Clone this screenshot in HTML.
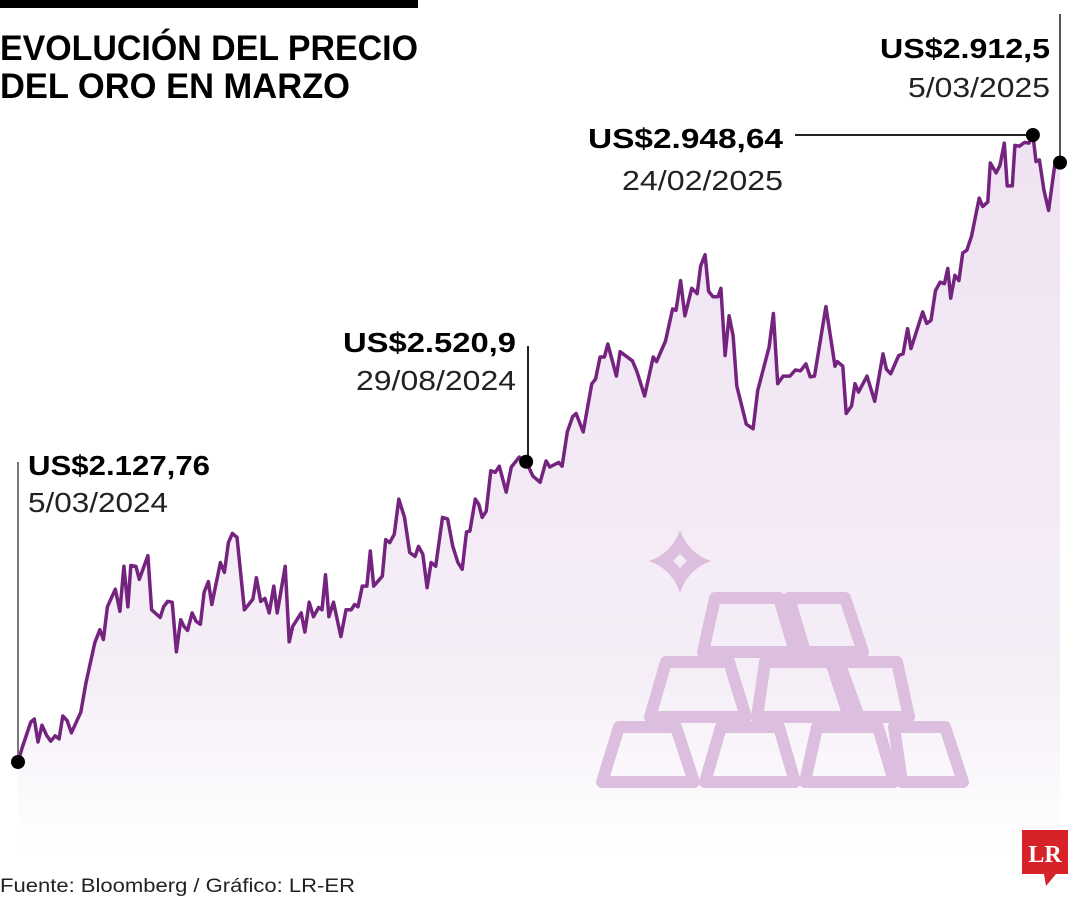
<!DOCTYPE html>
<html><head><meta charset="utf-8">
<style>
html,body{margin:0;padding:0;background:#fff;}
svg{display:block;font-family:"Liberation Sans",sans-serif;}
</style></head>
<body>
<svg id="chart" width="1080" height="900" viewBox="0 0 1080 900">
<defs>
<linearGradient id="fillg" x1="0" y1="0" x2="0" y2="1">
<stop offset="0" stop-color="#efe2f2"/>
<stop offset="0.75" stop-color="#f5eef7"/>
<stop offset="1" stop-color="#ffffff"/>
</linearGradient>
</defs>
<rect x="0" y="0" width="418" height="8" fill="#000"/>
<text x="0" y="60" font-size="35" font-weight="bold" textLength="418" lengthAdjust="spacingAndGlyphs">EVOLUCIÓN DEL PRECIO</text>
<text x="0" y="98" font-size="35" font-weight="bold" textLength="350" lengthAdjust="spacingAndGlyphs">DEL ORO EN MARZO</text>
<g id="area-layer"></g>
<g id="icon" fill="none" stroke="#dcbedf" stroke-width="12" stroke-linejoin="round">
<polygon points="602,782 694,782 676,727 619,727"/>
<polygon points="705,782 795,782 779,727 721,727"/>
<polygon points="805,782 894,782 878,727 817,727"/>
<polygon points="902,782 963,782 945,727 894,727"/>
<polygon points="650,717 746,717 729,662 666,662"/>
<polygon points="757,717 849,717 831,662 765,662"/>
<polygon points="859,717 909,717 897,662 839,662"/>
<polygon points="703,652 795,652 779,598 715,598"/>
<polygon points="805,652 863,652 845,598 789,598"/>
</g>
<g>
<path d="M680,530 Q688,553 711,561 Q688,569 680,593 Q672,569 649,561 Q672,553 680,530 Z" fill="#dcbedf"/>
<polygon points="680,554 687,561 680,568 673,561" fill="#f4ecf6"/>
</g>
<g id="line-layer"></g>
<g stroke-width="2" fill="none">
<line x1="18" y1="462" x2="18" y2="762" stroke="#777"/>
<line x1="528" y1="346" x2="528" y2="466" stroke="#222"/>
<line x1="795" y1="135" x2="1033" y2="135" stroke="#222"/>
<line x1="1060" y1="14" x2="1060" y2="163" stroke="#555"/>
</g>
<g id="dots"></g>
<text x="28" y="475" font-size="28" font-weight="bold" textLength="182" lengthAdjust="spacingAndGlyphs">US$2.127,76</text>
<text x="28" y="512" font-size="28" textLength="140" lengthAdjust="spacingAndGlyphs" fill="#222">5/03/2024</text>
<text x="343" y="352" font-size="28" font-weight="bold" textLength="173" lengthAdjust="spacingAndGlyphs">US$2.520,9</text>
<text x="356" y="390" font-size="28" textLength="160" lengthAdjust="spacingAndGlyphs" fill="#222">29/08/2024</text>
<text x="588" y="148" font-size="28" font-weight="bold" textLength="195" lengthAdjust="spacingAndGlyphs">US$2.948,64</text>
<text x="622" y="190" font-size="28" textLength="161" lengthAdjust="spacingAndGlyphs" fill="#222">24/02/2025</text>
<text x="880" y="58" font-size="28" font-weight="bold" textLength="170" lengthAdjust="spacingAndGlyphs">US$2.912,5</text>
<text x="908" y="97" font-size="28" textLength="142" lengthAdjust="spacingAndGlyphs" fill="#222">5/03/2025</text>
<text x="0" y="892" font-size="19" textLength="355" lengthAdjust="spacingAndGlyphs" fill="#222">Fuente: Bloomberg / Gráfico: LR-ER</text>
<g>
<rect x="1022" y="830" width="46" height="44" fill="#d7222a"/>
<polygon points="1044,874 1056,874 1046,886" fill="#d7222a"/>
<text x="1045" y="862" font-size="24" font-weight="bold" fill="#fff" text-anchor="middle" font-family="Liberation Serif, serif">LR</text>
</g>
</svg>
<script>
const days = [0,1.5,4.5,5.7,7,8.4,10,11.5,13,14.4,15.7,17.2,18.7,22,23.8,26.9,28.7,29.9,31.3,34.1,35.7,37.1,38.5,39.5,41.3,42.5,45.5,46.8,49.8,51,52.4,54,55.5,57,58.2,59.4,61,62.4,63.9,65.2,66.7,67.9,70.9,72.3,73.7,75.1,76.7,79.3,82.3,83.5,85,86.5,88,89.6,90.8,93.6,95,96.2,99.2,100.5,102,103.5,105.3,106.5,107.7,108.9,110.5,113.1,114.9,116.7,117.9,119.1,120.6,122.2,123.4,124.6,127.6,128.8,130.2,131.8,133.4,135.4,137.2,139.1,140.3,141.8,143.3,144.7,146.3,148.7,150.5,152.3,154.1,155.6,157.1,158.3,160.2,161.4,162.6,164,165.6,167.2,168.6,171,172.8,175.6,178,180.4,182.9,185,186.3,189.4,190.6,192.4,194.3,195.5,198,201,202.3,203.9,205.4,206.6,209.6,210.9,215.2,216.8,219.5,222.5,223.7,226.8,229.3,230.5,232.1,233.6,236,237.9,239.1,240.7,241.9,243.4,245.2,246.2,247.7,249.1,250.5,251.8,253.8,255.1,257.5,259.1,263.1,264.6,266.1,268,270.4,272.3,274.1,276,277.5,279,283,286.2,287,288.9,290.1,292,293.2,294.4,297.4,300.1,303,304.2,305.7,308.5,310,311.6,312.8,316.9,318.3,319.8,321.4,323,324.5,325.7,326.7,328.2,329.6,330.9,332.4,334,336.7,337.9,339.7,340.6,342.6,344,345.5,346.5,348.3,349.2,350.8,352.6,354.1,355.5,356.6,357.8,359.4,361,363.1,365];
const prices = [2127.76,2147,2180,2184,2154,2176,2163,2155,2162,2158,2188,2182,2166,2193,2231,2284,2301,2288,2331,2354,2325,2384,2331,2385,2384,2367,2398,2327,2317,2331,2338,2337,2272,2314,2305,2300,2323,2312,2308,2350,2364,2334,2389,2376,2415,2427,2422,2327,2341,2369,2338,2342,2323,2358,2323,2384,2285,2305,2323,2298,2337,2318,2330,2327,2373,2318,2337,2292,2327,2327,2334,2331,2358,2358,2404,2358,2371,2419,2415,2426,2472,2448,2402,2397,2410,2400,2356,2389,2384,2448,2446,2410,2389,2380,2429,2430,2472,2465,2448,2456,2509,2507,2515,2481,2514,2527,2520.9,2502,2494,2522,2514,2520,2515,2560,2580,2584,2560,2623,2629,2658,2658,2675,2633,2665,2653,2639,2607,2658,2652,2679,2721,2719,2758,2712,2748,2741,2777,2792,2744,2737,2737,2748,2660,2712,2686,2620,2590,2570,2564,2614,2671,2715,2623,2633,2633,2641,2640,2649,2632,2633,2724,2646,2652,2646,2584,2594,2623,2612,2633,2600,2662,2642,2636,2660,2662,2695,2669,2717,2702,2706,2745,2756,2754,2774,2735,2765,2758,2794,2798,2816,2866,2855,2861,2912,2899,2909,2938,2882,2882,2935,2934,2939,2938,2948.64,2914,2916,2876,2850,2908,2912.5];
const highlightValues = [2127.76, 2520.9, 2948.64, 2912.5];

const xScale = d => 18 + d * (1060 - 18) / 365;
const yScale = v => 762 - (v - 2127.76) * 0.7638;
const NS = "http://www.w3.org/2000/svg";
const n = Math.min(days.length, prices.length);
let pts = [];
for (let i = 0; i < n; i++) pts.push(xScale(days[i]).toFixed(1) + "," + yScale(prices[i]).toFixed(1));
const area = document.createElementNS(NS, "path");
area.setAttribute("d", "M" + xScale(days[0]) + ",855 L" + pts.join(" L") + " L" + xScale(days[n-1]) + ",855 Z");
area.setAttribute("fill", "url(#fillg)");


document.getElementById("area-layer").appendChild(area);
const line = document.createElementNS(NS, "polyline");
line.setAttribute("points", pts.join(" "));
line.setAttribute("fill", "none");
line.setAttribute("stroke", "#74247f");
line.setAttribute("stroke-width", "3.5");
line.setAttribute("stroke-linejoin", "round");


document.getElementById("line-layer").appendChild(line);
highlightValues.forEach((v, k) => {
  let i = k === highlightValues.length - 1 ? n - 1 : prices.indexOf(v);
  if (i < 0) return;
  const c = document.createElementNS(NS, "circle");
  c.setAttribute("cx", xScale(days[i]));
  c.setAttribute("cy", yScale(prices[i]));
  c.setAttribute("r", "7");
  c.setAttribute("fill", "#000");
  
  
  document.getElementById("dots").appendChild(c);
});
</script>
</body></html>
